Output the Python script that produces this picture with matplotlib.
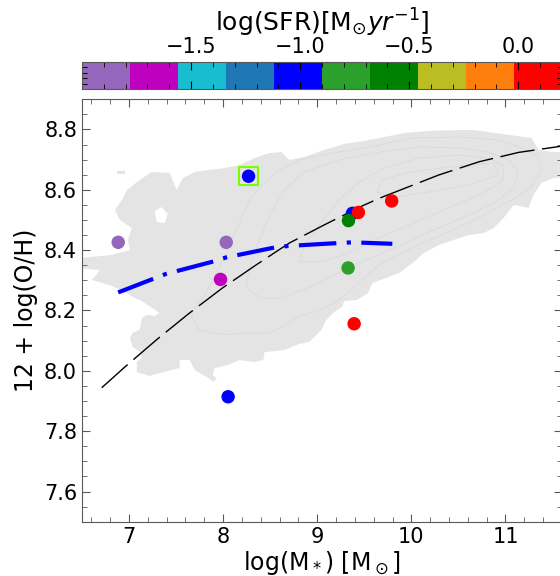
import numpy as np
import matplotlib
matplotlib.use("Agg")
import matplotlib.pyplot as plt
from matplotlib.colors import ListedColormap, Normalize
from matplotlib.cm import ScalarMappable
from matplotlib.ticker import MultipleLocator

# galaxies (stellar mass, metallicity, SFR)
log_mass = [8.27, 6.885, 8.033, 7.972, 9.374, 9.437, 9.332, 9.791, 9.328, 9.392, 8.053]
log_oh = [8.645, 8.426, 8.426, 8.303, 8.522, 8.525, 8.498, 8.563, 8.341, 8.156, 7.914]
log_sfr = [-1.0, -1.85, -1.85, -1.65, -1.0, 0.1, -0.6, 0.1, -0.8, 0.1, -1.0]

# highlighted object
box_mass = [8.27]
box_oh = [8.645]

# fit to the sample (blue dash-dot)
fit_mass = [6.885, 7.39, 7.927, 8.033, 8.58, 8.703, 9.021, 9.374, 9.798]
fit_oh = [8.260, 8.321, 8.365, 8.376, 8.411, 8.414, 8.420, 8.426, 8.421]

# reference MZR (black dashed)
mzr_mass = [6.71, 6.96, 7.30, 7.64, 7.99, 8.35, 8.70, 9.07, 9.46, 9.66, 10.29, 10.72, 11.14, 11.56, 11.6]
mzr_oh = [7.944, 8.014, 8.105, 8.191, 8.274, 8.351, 8.423, 8.483, 8.544, 8.572, 8.649, 8.693, 8.724, 8.743, 8.745]

# SDSS density region, outer outline
sdss_mass = [6.977, 7.114, 7.242, 7.432, 7.506, 7.570, 7.697, 7.856, 8.015, 8.174, 8.333, 8.492,
             8.619, 8.703, 8.862, 9.074, 9.286, 9.498, 9.710, 9.922, 10.186, 10.504, 10.663,
             10.896, 11.278, 11.352, 11.511, 11.617, 11.617, 11.511, 11.383, 11.299, 11.246,
             11.087, 10.981, 10.875, 10.769, 10.610, 10.451, 10.292, 10.133, 10.028, 9.869,
             9.583, 9.540, 9.424, 9.286, 9.265, 9.180, 9.095, 9.042, 8.915, 8.809, 8.650,
             8.439, 8.428, 8.333, 8.174, 8.047, 7.909, 7.888, 7.930, 7.898, 7.824, 7.697,
             7.644, 7.538, 7.538, 7.453, 7.220, 7.083, 7.083, 7.136, 7.114, 7.040, 7.008,
             7.040, 7.114, 7.136, 7.189, 7.273, 7.326, 7.199, 7.114, 7.061, 6.955, 6.797,
             6.606, 6.691, 6.479, 6.479, 6.818, 7.008, 6.987, 7.030, 6.903, 6.850, 6.924]
sdss_oh = [8.599, 8.633, 8.659, 8.656, 8.599, 8.639, 8.659, 8.666, 8.672, 8.682, 8.705, 8.722,
           8.725, 8.699, 8.709, 8.732, 8.752, 8.762, 8.775, 8.788, 8.795, 8.798, 8.798,
           8.788, 8.772, 8.732, 8.725, 8.725, 8.642, 8.639, 8.623, 8.583, 8.540,
           8.550, 8.507, 8.473, 8.457, 8.450, 8.434, 8.417, 8.391, 8.361, 8.324,
           8.291, 8.258, 8.235, 8.231, 8.212, 8.195, 8.168, 8.135, 8.096, 8.089, 8.069,
           8.062, 8.036, 8.029, 8.036, 8.019, 8.009, 7.986, 7.976, 7.963, 7.980, 8.003,
           8.036, 8.036, 8.009, 8.003, 7.983, 7.996, 8.029, 8.043, 8.063, 8.079, 8.109,
           8.126, 8.136, 8.175, 8.185, 8.182, 8.192, 8.218, 8.235, 8.241, 8.261, 8.284,
           8.301, 8.334, 8.341, 8.374, 8.384, 8.400, 8.434, 8.473, 8.500, 8.533, 8.566]
hole_mass = [7.273, 7.347, 7.411, 7.379, 7.294]
hole_oh = [8.530, 8.543, 8.520, 8.490, 8.493]
island_mass = [6.871, 6.955, 6.955, 6.871]
island_oh = [8.662, 8.662, 8.652, 8.652]

# inner density contours
cont_a_mass = [7.665, 7.739, 8.015, 8.195, 8.481, 8.619, 8.799, 8.968, 9.180, 9.328, 9.434, 9.657,
               10.006, 10.367, 10.716, 11.066, 11.278, 11.373, 11.352, 11.172, 10.928, 10.536,
               10.006, 9.519, 9.159, 8.809, 8.597, 8.407, 8.280, 8.142, 7.994, 7.888, 7.803, 7.697, 7.665]
cont_a_oh = [8.179, 8.135, 8.119, 8.125, 8.125, 8.145, 8.179, 8.195, 8.225, 8.258, 8.291, 8.351,
             8.407, 8.457, 8.507, 8.566, 8.609, 8.666, 8.709, 8.739, 8.765, 8.775,
             8.772, 8.739, 8.722, 8.699, 8.666, 8.616, 8.566, 8.467, 8.367, 8.301, 8.251, 8.208, 8.179]
cont_b_mass = [8.248, 8.269, 8.407, 8.619, 8.756, 8.968, 9.074, 9.392, 9.763, 10.186, 10.610, 10.928,
               11.087, 11.140, 11.034, 10.822, 10.504, 10.081, 9.657, 9.233, 8.862, 8.650, 8.492,
               8.386, 8.301, 8.248]
cont_b_oh = [8.301, 8.268, 8.241, 8.241, 8.258, 8.284, 8.301, 8.351, 8.400, 8.460, 8.516, 8.566,
             8.606, 8.659, 8.699, 8.725, 8.739, 8.742, 8.725, 8.699, 8.659, 8.599, 8.516,
             8.434, 8.361, 8.301]
cont_c_mass = [8.809, 9.021, 9.286, 9.604, 9.975, 10.398, 10.769, 10.981, 10.981, 10.822, 10.504,
               10.081, 9.710, 9.445, 9.233, 9.021, 8.862, 8.809]
cont_c_oh = [8.361, 8.361, 8.384, 8.434, 8.483, 8.540, 8.590, 8.633, 8.682, 8.705, 8.715,
             8.705, 8.672, 8.626, 8.566, 8.483, 8.417, 8.361]
cont_d_mass = [9.636, 9.689, 9.975, 10.504, 10.875, 10.928, 10.610, 10.186, 9.816, 9.636]
cont_d_oh = [8.593, 8.633, 8.659, 8.679, 8.689, 8.649, 8.616, 8.593, 8.576, 8.593]

sfr_colors = ['tab:purple', 'm', 'tab:cyan', 'tab:blue', 'blue',
              'tab:green', 'green', 'tab:olive', 'tab:orange', 'red']
sfr_ticks = [-1.5, -1.0, -0.5, 0.0]

edge = '0.35'
plt.rcParams['axes.edgecolor'] = edge
plt.rcParams['xtick.color'] = edge
plt.rcParams['ytick.color'] = edge
plt.rcParams['xtick.labelcolor'] = 'black'
plt.rcParams['ytick.labelcolor'] = 'black'

fig = plt.figure(figsize=(5.6, 5.76), dpi=100)
ax = fig.add_axes([0.1464, 0.0943, 0.857, 0.7333])
cax = fig.add_axes([0.1464, 0.8455, 0.857, 0.0474])

cmap = ListedColormap(sfr_colors)
norm = Normalize(vmin=-2.0, vmax=0.2)

# background SDSS density
ax.fill(sdss_mass, sdss_oh, color='#e4e4e4', lw=0, zorder=0.5)
ax.fill(hole_mass, hole_oh, color='white', lw=0, zorder=0.55)
ax.fill(island_mass, island_oh, color='#e4e4e4', lw=0, zorder=0.5)
for cx, cy in [(cont_a_mass, cont_a_oh), (cont_b_mass, cont_b_oh),
               (cont_c_mass, cont_c_oh), (cont_d_mass, cont_d_oh)]:
    ax.plot(cx, cy, color='#d8d8d8', lw=0.5, zorder=0.6)

ax.plot(mzr_mass, mzr_oh, color='black', lw=1.0, ls=(0, (25, 5.5)), zorder=2)
ax.plot(fit_mass, fit_oh, color='blue', lw=3.0, ls=(0, (9, 2.5, 1, 2.5)), zorder=2.5)

ax.scatter(log_mass, log_oh, c=log_sfr, cmap=cmap, norm=norm, s=75, zorder=3)
ax.scatter(box_mass, box_oh, marker='s', s=175, facecolors='none',
           edgecolors='lawngreen', linewidths=1.5, zorder=4)

ax.set_xlim(6.5, 11.6)
ax.set_ylim(7.5, 8.9)
ax.xaxis.set_major_locator(MultipleLocator(1))
ax.xaxis.set_minor_locator(MultipleLocator(0.2))
ax.yaxis.set_major_locator(MultipleLocator(0.2))
ax.yaxis.set_minor_locator(MultipleLocator(0.05))
ax.tick_params(which='both', direction='in', top=True, right=True, labelsize=15)
ax.tick_params(which='major', length=6)
ax.tick_params(which='minor', length=3.5)
ax.set_xlabel(r'log(M$_*$) [M$_\odot$]', fontsize=17, labelpad=2)
ax.set_ylabel('12 + log(O/H)', fontsize=17)

cb = fig.colorbar(ScalarMappable(norm=norm, cmap=cmap), cax=cax,
                  orientation='horizontal', ticks=sfr_ticks)
cb.outline.set_edgecolor(edge)
cax.xaxis.set_ticks_position('top')
cax.xaxis.set_label_position('top')
cax.xaxis.set_minor_locator(MultipleLocator(0.1))
cax.tick_params(which='both', direction='in', top=True, bottom=True,
                labeltop=True, labelbottom=False, labelsize=15, color='black')
cax.tick_params(which='major', length=6)
cax.tick_params(which='minor', length=3.5)
cax.yaxis.set_ticks([0.2, 0.4, 0.6, 0.8])
cax.yaxis.set_ticklabels([])
cax.tick_params(axis='y', which='both', direction='in', left=True, right=True, length=3.5)
cb.set_label(r'log(SFR)[M$_{\odot}yr^{-1}$]', fontsize=18)

fig.savefig('out.png', dpi=100)
